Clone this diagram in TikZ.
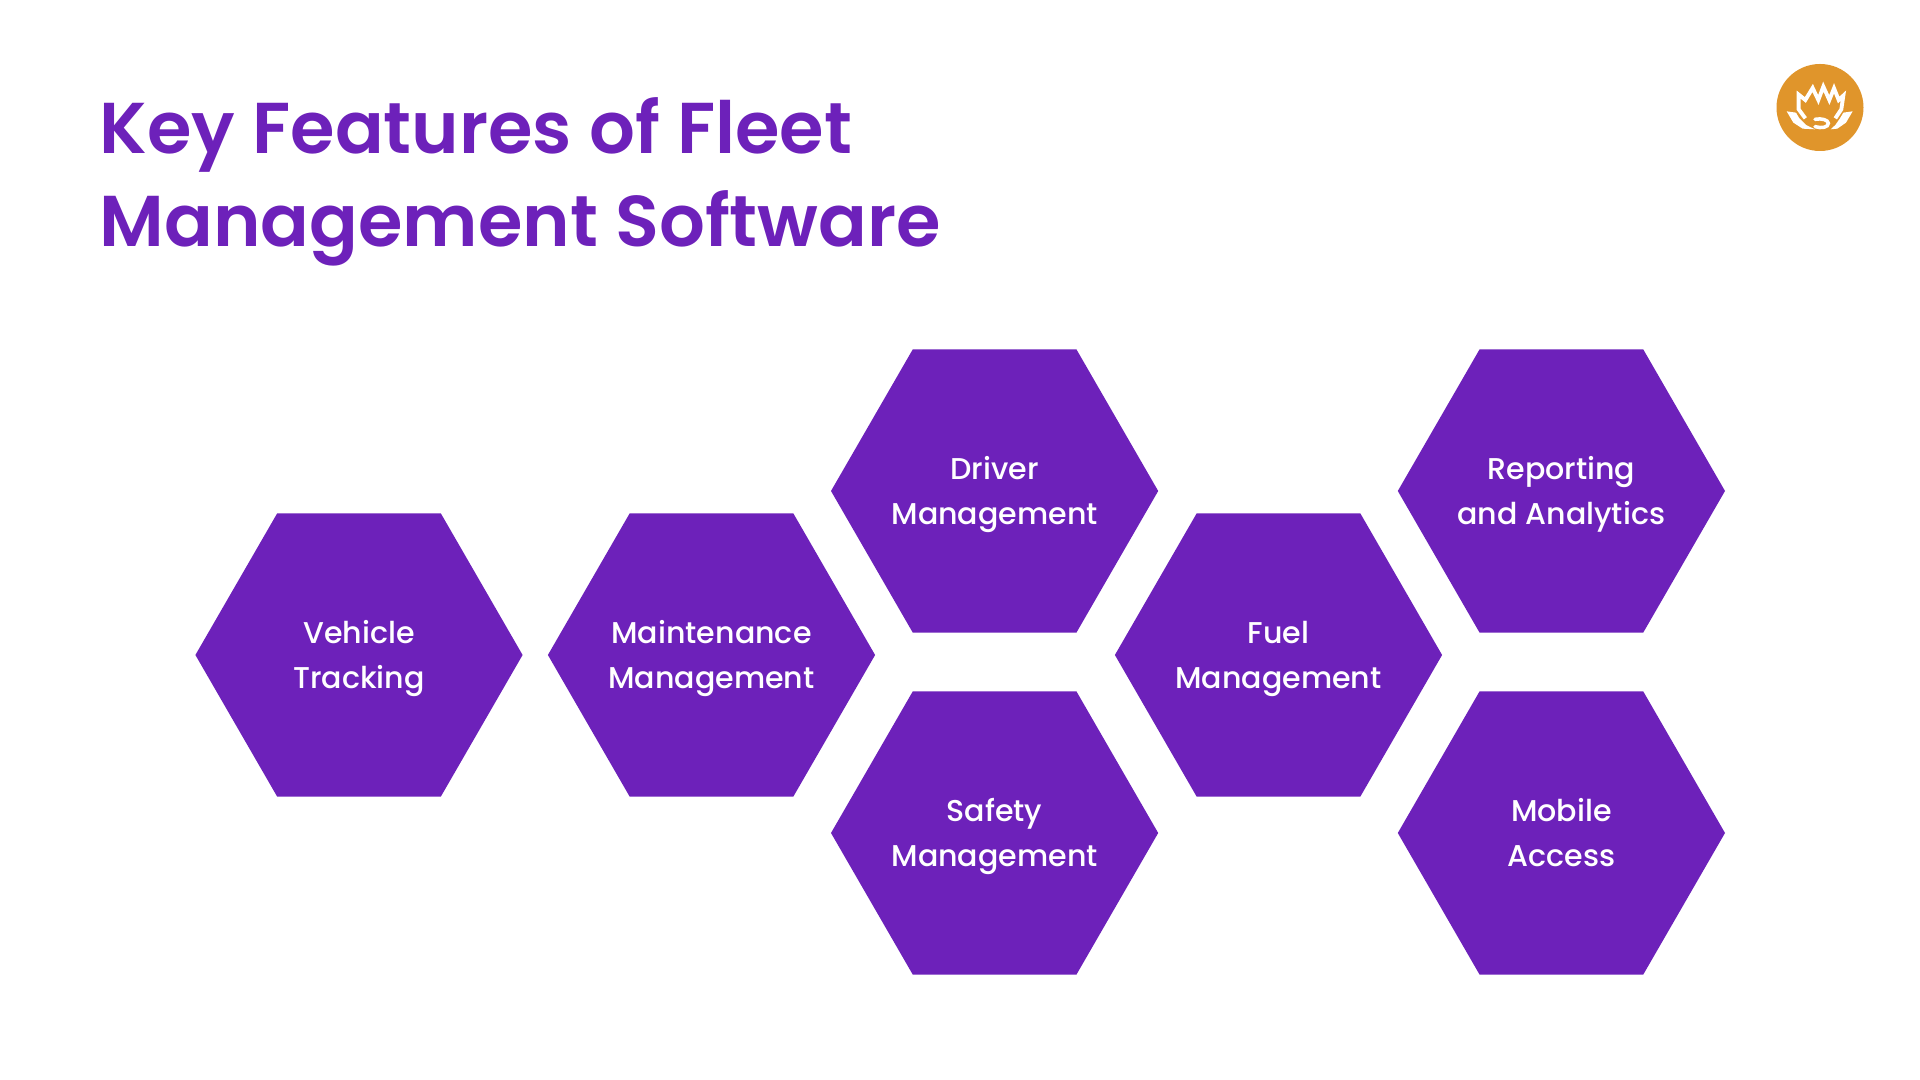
\documentclass[tikz,border=0pt]{standalone}
\usepackage{fontspec}
\setmainfont{Poppins}[BoldFont={Poppins SemiBold}]
\newfontfamily\labelfont{Poppins Medium}
\usetikzlibrary{shapes.geometric}
\definecolor{mypurple}{RGB}{109,33,186}
\definecolor{myorange}{RGB}{224,149,43}
\tikzset{
  hexbox/.style={regular polygon,regular polygon sides=6,
    minimum size=3.27cm,inner sep=0pt,outer sep=0pt,fill=mypurple},
  hexlabel/.style={text=white,align=center,inner sep=0pt,anchor=base,yshift=-0.33cm,
    font=\labelfont\fontsize{8.55pt}{12.7pt}\selectfont},
  petal/.style={draw=white,line width=1pt,line join=miter,fill=myorange}
}
\begin{document}
\begin{tikzpicture}[x=0.01cm,y=-0.01cm]
\useasboundingbox (0,0) rectangle (1920,1080);
\fill[white] (0,0) rectangle (1920,1080);

\node[anchor=base west,align=left,text=mypurple,inner sep=0pt,
  font=\bfseries\fontsize{20.47pt}{26.7pt}\selectfont] (title) at (99,247)
  {Key Features of Fleet\\Management Software};

\foreach \name/\cx/\cy/\txt in {vehicle/359/655/Vehicle\\Tracking,
  maintenance/711.5/655/Maintenance\\Management,
  driver/994.6/491/Driver\\Management,
  safety/994.6/833/Safety\\Management,
  fuel/1278.5/655/Fuel\\Management,
  reporting/1561.4/491/Reporting\\and Analytics,
  mobile/1561.4/833/Mobile\\Access}{
  \node[hexbox] (\name) at (\cx,\cy) {};
  \node[hexlabel] (\name label) at (\name) {\txt};
}

% logo
\fill[myorange] (1820,107.5) circle (43.5);
\begin{scope}[shift={(1760,50)},scale=1/3]
\fill[white] (80,184) -- (108,188) -- (118,205) -- (138,225) -- (165,238) -- (128,236) -- (100,218) -- cycle;
\fill[white] (278,184) -- (250,188) -- (240,205) -- (226,225) -- (212,238) -- (232,236) -- (258,218) -- cycle;
\draw[white,line width=1.1pt,line join=miter] (136,205) -- (116,178) -- (116,134) -- (136,150) -- (158,114) -- (175,150) -- (190,110)
  -- (208,150) -- (222,115) -- (236,150) -- (250,137) -- (244,178) -- (226,205);
\draw[white,line width=1pt,line cap=round] (165,208) .. controls (185,204) and (205,210) .. (205,220)
  .. controls (205,232) and (185,236) .. (165,230);
\end{scope}
\end{tikzpicture}
\end{document}
